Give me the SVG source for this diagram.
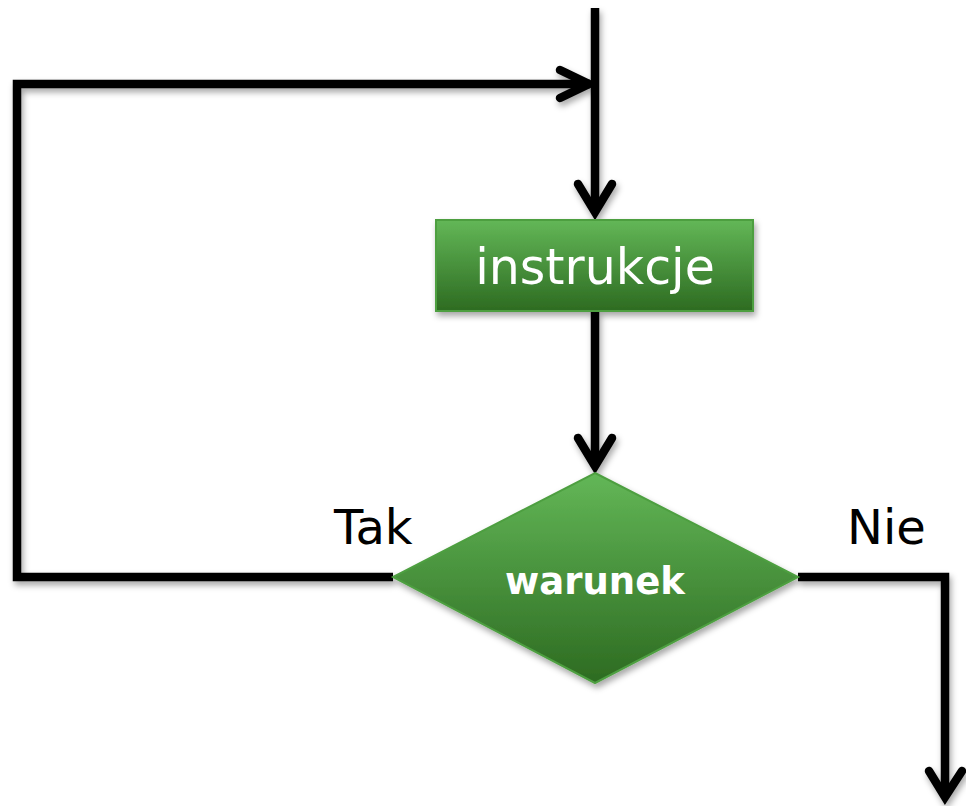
<svg xmlns="http://www.w3.org/2000/svg" width="966" height="806" viewBox="0 0 966 806">
  <defs>
    <linearGradient id="g" x1="0" y1="0" x2="0" y2="1">
      <stop offset="0" stop-color="#63b757"/>
      <stop offset="1" stop-color="#2d6b21"/>
    </linearGradient>
    <filter id="sh" x="-10%" y="-10%" width="130%" height="130%">
      <feDropShadow dx="2" dy="4" stdDeviation="3" flood-color="#000" flood-opacity="0.35"/>
    </filter>
  </defs>
  <style>
    .c { fill: none; stroke: #000; stroke-width: 8.5; }
    .h { fill: none; stroke: #000; stroke-width: 8.5; stroke-linecap: round; stroke-linejoin: miter; }
    .lbl { font-family: "DejaVu Sans", Verdana, sans-serif; font-size: 48px; fill: #000; }
    .shape { fill: url(#g); stroke: #4e9f41; stroke-width: 2; filter: url(#sh); }
  </style>
  <rect width="966" height="806" fill="#fff"/>
  <g id="connectors" filter="url(#sh)">
    <path class="c" d="M595,8 V212"/>
    <path class="h" d="M578,184 L595,212 L612,184"/>
    <path class="c" d="M595,311 V466"/>
    <path class="h" d="M578,438 L595,466 L612,438"/>
    <path class="c" d="M393,577 H17 V84 H590"/>
    <path class="h" d="M560,70 L589,84 L560,98"/>
    <path class="c" d="M798,577 H945 V797"/>
    <path class="h" d="M929,771 L945,797 L962,771"/>
  </g>
  <g id="instrukcje">
    <rect class="shape" x="436" y="220" width="317" height="91"/>
    <text x="595" y="284" text-anchor="middle" font-family="DejaVu Sans, Verdana, sans-serif" font-size="49" fill="#fff">instrukcje</text>
  </g>
  <g id="warunek">
    <polygon class="shape" points="595,473 798,577 595,683 393,577"/>
    <text x="595" y="594" text-anchor="middle" font-family="DejaVu Sans, Verdana, sans-serif" font-weight="bold" font-size="37" fill="#fff">warunek</text>
  </g>
  <g id="labels">
    <text class="lbl" x="334" y="544">Tak</text>
    <text class="lbl" x="847" y="544">Nie</text>
  </g>
</svg>
